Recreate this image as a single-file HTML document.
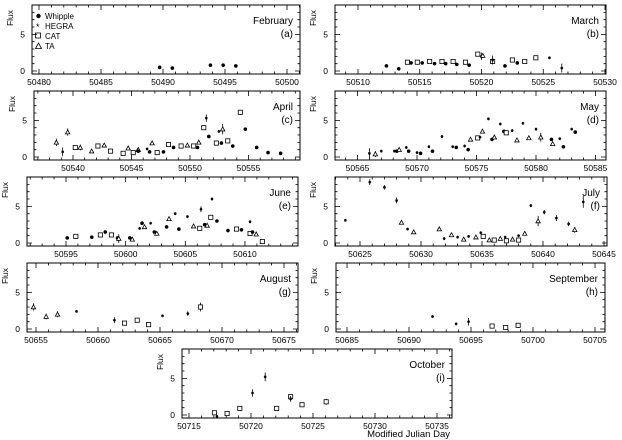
<!DOCTYPE html>
<html><head><meta charset="utf-8">
<style>
html,body{margin:0;padding:0;background:#fff;}
svg{display:block;font-family:"Liberation Sans",Arial,sans-serif;}
</style></head>
<body>
<svg id="s" width="622" height="440" viewBox="0 0 622 440" xmlns="http://www.w3.org/2000/svg">
<g id="g"></g>
<g font-size="9" fill="#000">
<text x="450" y="437" text-anchor="end" font-size="9.5">Modified Julian Day</text>
<g font-size="8"><circle cx="38.5" cy="16" r="2.2"/><text x="45" y="19">Whipple</text>
<text x="36" y="30" font-size="9">*</text><text x="45" y="29">HEGRA</text>
<rect x="35.5" y="33" width="5" height="5" fill="none" stroke="#000" stroke-width="0.8"/><text x="45" y="39">CAT</text>
<path d="M35.5 48.5 L38.5 43 L41.5 48.5 Z" fill="none" stroke="#000" stroke-width="0.8"/><text x="45" y="49">TA</text></g>
</g>
</svg>
<script>
var P=[
{L:32,R:300,T:5,dp:39,ds:12.7,tp:39,ts:12.4,v0:50480,labs:["50480","50485","50490","50495","50500"],m:"February",l:"(a)",
d:[[50489.5,.5,'w'],[50490.5,.4,'w'],[50493.5,.8,'w'],[50494.5,.8,'w'],[50495.5,.7,'w']]},
{L:335,R:606,T:5,dp:358,ds:12.35,tp:358,ts:12.35,v0:50510,labs:["50510","50515","50520","50525","50530"],m:"March",l:"(b)",
d:[[50512.3,.7,'w'],[50513.3,.3,'w'],[50514,1.2,'c'],[50514.3,1.1,'w'],[50514.8,1.2,'c'],[50515.2,1.1,'w'],[50515.8,1.3,'c'],[50516.2,1.0,'w'],[50516.8,1.3,'c'],[50517.1,1.0,'w'],[50517.7,1.3,'c'],[50518,.9,'w'],[50518.7,1.2,'c'],[50519,.8,'w'],[50519.7,2.3,'c'],[50520,2.0,'h',.5],[50520.1,2.1,'t',.3],[50520.9,1.3,'c'],[50520.9,1.5,'h',.6],[50521.9,.7,'w'],[50522.5,1.5,'c'],[50522.9,1.1,'w'],[50523.5,1.3,'c'],[50524.4,1.8,'c'],[50525.5,1.8,'h'],[50526.5,.4,'h',.6]]},
{L:34,R:300,T:91,dp:74,ds:12.6,tp:73,ts:11.7,v0:50540,labs:["50540","50545","50550","50555"],m:"April",l:"(c)",
d:[[50538.6,2,'t',.5],[50539.1,.7,'h',.6],[50539.5,3.4,'t',.5],[50540.1,1.3,'c'],[50540.5,1.3,'t',.4],[50541.4,.8,'t'],[50541.9,1.5,'c'],[50542.4,1.6,'t'],[50542.9,.8,'c'],[50543.9,.5,'c'],[50544.3,1.2,'t'],[50544.7,.6,'c'],[50545.1,1.0,'t'],[50545.1,.8,'w'],[50545.8,1.1,'h'],[50546,.7,'w'],[50546.2,1.9,'t'],[50546.6,.6,'c'],[50547.1,.7,'w'],[50547.5,1.7,'c'],[50547.9,1.3,'w'],[50548.5,1.5,'c'],[50549,1.6,'t'],[50549.5,1.5,'c'],[50549.8,1.3,'w'],[50549.9,2.0,'t'],[50550.3,4.0,'c'],[50550.5,5.3,'h',.5],[50550.7,2.8,'w'],[50551.3,1.9,'c'],[50551.5,3.5,'h'],[50551.7,1.9,'w'],[50551.8,3.8,'t',.7],[50552.2,2.2,'c'],[50552.6,1.5,'w'],[50553.2,6.1,'c'],[50553.6,3.8,'w'],[50554.5,1.3,'w'],[50555.4,.6,'w'],[50556.4,.5,'w']]},
{L:335,R:606,T:91,dp:357.5,ds:11.9,tp:357.5,ts:11.9,v0:50565,labs:["50565","50570","50575","50580","50585"],m:"May",l:"(d)",
d:[[50566,.5,'h',.7],[50566.5,.4,'t',.4],[50567,.8,'h'],[50568.1,.8,'h'],[50568.3,.8,'w'],[50568.5,1.0,'t'],[50569.1,1.3,'h'],[50569.3,.8,'w'],[50570,.6,'h'],[50570.3,.5,'w'],[50571,1.4,'h'],[50571.3,.8,'w'],[50572.1,2.8,'h'],[50573,1.4,'h'],[50573.3,1.3,'w'],[50574,1.5,'h'],[50574.3,1.0,'w'],[50574.5,2.4,'t'],[50575.1,2.6,'c'],[50575.3,2.7,'h'],[50575.5,3.5,'t'],[50576,5.2,'h'],[50576.3,2.4,'w'],[50576.5,2.7,'t'],[50577,4.5,'h'],[50577.3,3.5,'w'],[50577.5,3.3,'c'],[50578,3.6,'h'],[50578.4,2.3,'t'],[50578.9,4.6,'h'],[50579.4,2.6,'t'],[50580,3.8,'h'],[50580.4,2.7,'t',.6],[50581.3,2.4,'w'],[50581.4,1.8,'t'],[50582,2.5,'h'],[50582.3,1.4,'w'],[50583,3.8,'h'],[50583.3,3.4,'w']]},
{L:27,R:298,T:177,dp:66,ds:12.27,tp:66,ts:11.93,v0:50595,labs:["50595","50600","50605","50610"],m:"June",l:"(e)",
d:[[50595.1,.7,'w'],[50595.8,.9,'c'],[50597.1,.8,'w'],[50597.8,1.1,'c'],[50598.2,1.5,'w'],[50598.7,1.1,'c'],[50599.2,.7,'w'],[50599.3,.6,'t',.6],[50600.2,.7,'w'],[50600.4,.5,'t'],[50601,2.0,'h'],[50601.2,2.7,'w'],[50601.4,2.2,'t'],[50601.9,2.7,'h'],[50602.2,1.5,'w'],[50602.4,1.3,'t'],[50603.2,2.2,'w'],[50603.4,3.3,'t'],[50603.9,4.0,'h'],[50604.2,1.9,'w'],[50604.9,3.6,'h'],[50605.4,2.3,'t'],[50605.9,2.0,'c'],[50606,4.6,'h',.4],[50606.3,2.5,'w'],[50606.5,2.4,'t'],[50606.8,3.5,'c'],[50606.9,6.0,'h'],[50607.3,3.0,'w'],[50608.2,1.7,'w'],[50608.9,1.9,'c'],[50609.3,1.8,'w'],[50610,2.9,'h'],[50610,1.3,'c'],[50610.2,1.5,'w'],[50610.5,1.2,'t'],[50611,.2,'c']]},
{L:335,R:607,T:177,dp:360,ds:12.2,tp:360,ts:12.2,v0:50625,labs:["50625","50630","50635","50640","50645"],m:"July",l:"(f)",
d:[[50623.8,3.1,'h'],[50625.8,8.3,'h',.4],[50627,7.6,'h',.3],[50628,5.8,'h',.4],[50628.4,2.8,'t'],[50628.9,1.9,'h'],[50629.4,1.5,'t'],[50631.5,1.9,'t'],[50631.9,.6,'h'],[50632.5,1.1,'t'],[50633,.8,'h'],[50633.5,.5,'t'],[50633.9,.9,'h'],[50634.5,.8,'t'],[50634.9,1.4,'h'],[50635.1,.9,'c'],[50635.6,.4,'t'],[50636,.4,'c'],[50636.5,.6,'t'],[50636.9,.8,'h'],[50637,.3,'c'],[50637.5,.5,'t'],[50638,1.0,'h'],[50638,.4,'c'],[50638.5,1.3,'t'],[50639,5.1,'h'],[50639.6,3.0,'t',.7],[50640.1,4.2,'h',.3],[50641.1,3.4,'h',.4],[50642.1,2.6,'h',.3],[50642.6,1.8,'t',.4],[50643.3,5.6,'h',.8]]},
{L:27,R:298,T:263,dp:36,ds:12.65,tp:36,ts:12.4,v0:50655,labs:["50655","50660","50665","50670","50675"],m:"August",l:"(g)",
d:[[50654.8,3.0,'t',.5],[50655.8,1.7,'t',.4],[50656.7,2.0,'t',.4],[50658.2,2.4,'h'],[50661.2,1.2,'h',.4],[50662,.8,'c'],[50663,1.2,'c'],[50663.9,.6,'c'],[50665,1.8,'h'],[50667,2.1,'h',.3],[50668,3.0,'c',.6]]},
{L:336,R:605,T:263,dp:347,ds:12.4,tp:347,ts:12.4,v0:50685,labs:["50685","50690","50695","50700","50705"],m:"September",l:"(h)",
d:[[50691.9,1.7,'h'],[50693.8,.7,'h'],[50694.8,1.0,'h',.5],[50696.7,.4,'c'],[50697.8,.2,'c'],[50698.8,.5,'c']]},
{L:182,R:452,T:349,dp:189,ds:12.7,tp:189,ts:12.4,v0:50715,labs:["50715","50720","50725","50730","50735"],m:"October",l:"(i)",
d:[[50717,.3,'c'],[50717.2,-.2,'h'],[50718,.2,'c'],[50719,.9,'c'],[50720,3.0,'h',.5],[50721,5.2,'h',.6],[50721.9,.9,'c'],[50723,2.5,'c'],[50723,2.2,'h',.4],[50723.9,1.4,'c'],[50725.8,1.8,'c',.4]]}
];
var K=7.33,o='';
P.forEach(function(p){
 var y0=p.T+66,B=p.T+69,W=p.R-p.L;
 o+='<rect x="'+p.L+'" y="'+p.T+'" width="'+W+'" height="69" fill="none" stroke="#000" stroke-width="1"/>';
 var d0=Math.ceil(p.v0-(p.tp-p.L)/p.ts),d1=Math.floor(p.v0+(p.R-p.tp)/p.ts);
 for(var d=d0;d<=d1;d++){var x=p.tp+(d-p.v0)*p.ts;if(x<=p.L+0.5||x>=p.R-0.5)continue;var len=((d-p.v0)%5==0)?5:2.5;
  o+='<path d="M'+x+' '+B+'v-'+len+'M'+x+' '+p.T+'v'+len+'" stroke="#000" stroke-width="0.8"/>';}
 p.labs.forEach(function(t,i){var x=p.tp+i*5*p.ts;o+='<text x="'+x+'" y="'+(B+11)+'" text-anchor="middle" font-size="8.5">'+t+'</text>';});
 for(var f=0;f<=9;f++){var y=y0-f*K;if(y<p.T+1)break;var len=(f%5==0)?5:2.5;
  o+='<path d="M'+p.L+' '+y+'h'+len+'M'+p.R+' '+y+'h-'+len+'" stroke="#000" stroke-width="0.8"/>';}
 var lx=p.L-7;
 o+='<text x="'+lx+'" y="'+(y0+3)+'" text-anchor="end" font-size="8.5">0</text>';
 o+='<text x="'+lx+'" y="'+(y0-5*K+3)+'" text-anchor="end" font-size="8.5">5</text>';
 o+='<text transform="translate('+(p.L-19)+','+(p.T+13)+') rotate(-90)" text-anchor="middle" font-size="8.5">Flux</text>';
 o+='<text x="'+(p.R-7)+'" y="'+(p.T+19)+'" text-anchor="end" font-size="10">'+p.m+'</text>';
 o+='<text x="'+(p.R-7)+'" y="'+(p.T+32)+'" text-anchor="end" font-size="10">'+p.l+'</text>';
 p.d.forEach(function(q){
  var x=p.dp+(q[0]-p.v0)*p.ds,y=y0-q[1]*K,e=(q[3]||0.2)*K,t=q[2];
  o+='<path d="M'+x+' '+(y-e)+'V'+(y+e)+'" stroke="#000" stroke-width="0.8"/>';
  if(t=='w')o+='<circle cx="'+x+'" cy="'+y+'" r="1.8"/>';
  else if(t=='c')o+='<rect x="'+(x-2.1)+'" y="'+(y-2.1)+'" width="4.2" height="4.2" fill="#fff" stroke="#000" stroke-width="0.8"/>';
  else if(t=='t')o+='<path d="M'+(x-2.2)+' '+(y+1.8)+'L'+x+' '+(y-2.2)+'L'+(x+2.2)+' '+(y+1.8)+'Z" fill="#fff" stroke="#000" stroke-width="0.8"/>';
  else o+='<path d="M'+(x-1.4)+' '+y+'h2.8M'+(x-0.9)+' '+(y-1.1)+'l1.8 2.2M'+(x+0.9)+' '+(y-1.1)+'l-1.8 2.2" stroke="#000" stroke-width="0.8"/>';
 });
});
document.getElementById('g').innerHTML=o;
</script>
</body></html>
